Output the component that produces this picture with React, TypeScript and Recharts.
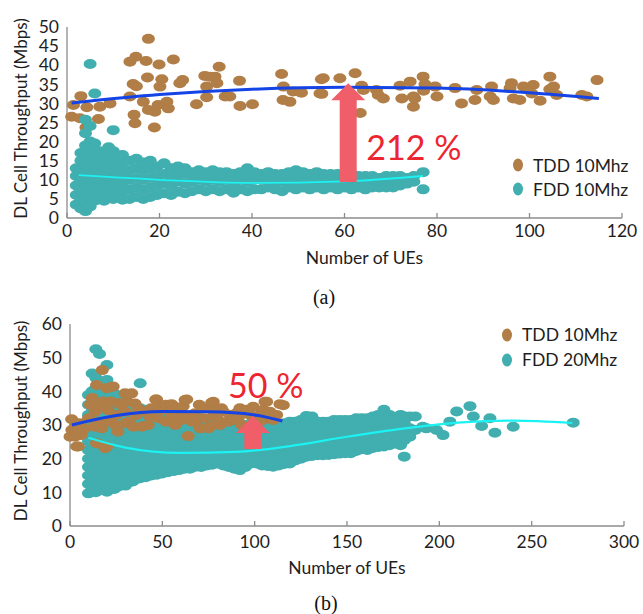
import {
  ComposedChart,
  Scatter,
  XAxis,
  YAxis,
  Legend,
  ReferenceDot,
} from "recharts";

const FONT = "Lato, 'Open Sans', sans-serif";
const TDD_COLOR = "#B07E46";
const FDD_COLOR = "#41AEAF";
const TDD_TREND = "#1443E6";
const FDD_TREND = "#1CF2F2";
const ARROW = "#EF5E69";
const GAIN_TEXT = "#EC2530";
const AXIS = "#8C8C8C";
const INK = "#1E1E1E";

// ---------- (a) TDD 10Mhz vs FDD 10Mhz ----------
const xTicksA = [0, 20, 40, 60, 80, 100, 120];
const yTicksA = [0, 5, 10, 15, 20, 25, 30, 35, 40, 45, 50];

const tddA: [number, number][] = [
  [1.4, 29.6], [1, 26.5], [2.8, 26.1], [3, 31.9], [4.3, 29], [4.1, 23.7], [6.8, 25.9], [7.1, 29.1], [9.3, 30],
  [13.6, 31.8], [14.3, 35.1], [14.5, 27], [14.7, 24.8], [14.9, 42.2], [13.6, 40.9], [15, 34.5],
  [16.5, 30.4], [17.1, 41.1], [17.4, 36.8], [17.6, 46.9], [17.6, 28.3], [19, 27.8], [18.9, 23.7], [19.7, 29.6],
  [19.9, 40.2], [20.1, 34.4], [20.5, 36.3], [21.6, 30.4], [21.9, 28.7], [23, 41.5], [24.4, 35.3], [25, 36.1],
  [28, 29.8], [29.8, 37.2], [30.2, 34.4], [30.2, 31.6], [30.9, 37], [32, 37], [32.4, 35.3], [32.9, 39.6],
  [34.2, 31.8], [35.2, 31.8], [37.3, 35.9], [37.4, 29.3], [40.1, 29.8],
  [46.4, 37.7], [46.8, 34.4], [46.7, 30.9], [48.2, 30.4], [48.9, 33.1], [50.4, 33], [50.7, 32.8], [54.7, 32.6],
  [55, 36.3], [55.4, 36.6], [55.1, 32.5], [59, 36.6], [62.3, 37.9], [63.4, 27.5], [63.7, 34.6], [64.1, 33.5],
  [66.9, 33.5], [67.3, 32.2], [68.4, 31.3], [72, 34.6], [72.4, 31.3], [74.2, 35.7], [74.9, 31.8], [74.9, 29.1],
  [75.2, 31.3], [77, 37], [77.4, 35], [77.1, 33.3], [79.6, 34.4], [80, 31.8], [83.9, 34], [85.3, 30], [88.2, 30.9],
  [88.6, 33.5], [91.8, 34.4], [91.5, 31.8], [92.2, 30.9], [96.1, 35.3], [95.8, 34], [96.5, 31.3], [97.9, 30.9],
  [98.7, 34.4], [100.8, 34.8], [100.5, 32.6], [102.3, 30.7], [104.4, 37], [104.4, 33.7], [105.2, 34.4],
  [105.9, 32.2], [111.3, 32.2], [112.4, 31.8], [114.6, 36.1],
];

// FDD (a): one entry per column of the cloud, [UEs, throughputs]
const fddA: [number, number[]][] = [
  [2, [3.5, 6, 8.5, 11, 13]],
  [3, [2.5, 5, 7.5, 10, 12.5, 15, 17]],
  [4, [1.8, 4, 6.5, 9, 11.5, 14, 16.5, 19, 22.2, 25.7]],
  [5, [3, 5.5, 8, 10.5, 13, 15.5, 18, 20, 24.1, 40.3]],
  [6, [4.5, 7, 9.5, 12, 14.5, 17, 19.5, 32.6]],
  [7, [5, 7.5, 10, 12.5, 15, 17.5]],
  [8, [4.5, 7, 9.5, 12, 14.5, 17]],
  [9, [5.5, 8, 10.5, 13, 15.5, 18.5]],
  [10, [5, 7.5, 10, 12.5, 15, 17.5, 23]],
  [11, [6, 8.5, 11, 13.5, 16]],
  [12, [4.8, 7, 9.5, 12, 14.5, 16.5]],
  [13.5, [5, 7.5, 10, 12.5, 15]],
  [15, [5.5, 8, 10.5, 13, 15.5]],
  [16.5, [5, 7.5, 10, 12.5, 14.5]],
  [18, [5.5, 8, 10.5, 13, 15]],
  [19.5, [6, 8.5, 11, 13.5]],
  [21, [6.5, 9, 11.5, 14.3]],
  [22.5, [6, 8.5, 11, 13]],
  [24, [6.9, 9.5, 12, 13.5]],
  [25.5, [6.5, 9, 11.5, 13]],
  [27, [7, 9.5, 12]],
  [28.5, [7.5, 10, 12.5]],
  [30, [7, 9.5, 12]],
  [31.5, [7.5, 10, 12.5]],
  [33, [7, 9.5, 12]],
  [34.5, [7.5, 10, 12]],
  [36, [6.6, 9, 11.5]],
  [37.5, [7.5, 10, 12]],
  [39, [7, 9.5, 12, 13]],
  [40.5, [7.5, 10, 12]],
  [42, [7.5, 10, 11.5]],
  [43.5, [8, 10, 12]],
  [45, [7.5, 9.5, 11.5]],
  [46.5, [7, 9.5, 11.5]],
  [48, [8, 10, 12]],
  [49.5, [7.5, 9.5, 11.5, 12.5]],
  [51, [8, 10, 12]],
  [52.5, [7.5, 9.5, 11.5]],
  [54, [8, 10, 12]],
  [55.5, [7.5, 9.5, 11.5]],
  [57, [8, 10, 11.5]],
  [58.5, [7.5, 9.5, 11.5]],
  [60, [8, 10, 11.5]],
  [61.5, [7.5, 9.5, 11.5]],
  [63, [8, 10, 11]],
  [64.5, [7.5, 9.5, 11]],
  [66, [8, 10, 11]],
  [67.5, [8, 9.5, 10.5]],
  [69, [8, 9.5, 11]],
  [70.5, [8, 9.5, 11]],
  [72, [8.5, 10, 11]],
  [73.5, [9, 10.5]],
  [75, [9.5, 11]],
  [77, [7.5, 12]],
];

const tddTrendA: [number, number][] = [[1, 30.1], [20, 32.3], [40, 33.7], [60, 34.2], [80, 34], [100, 32.8], [115, 31.3]];
const fddTrendA: [number, number][] = [[2.5, 11.2], [20, 10], [40, 9.2], [60, 9.6], [77, 11]];
const arrowA: [number, number][] = [[60.8, 9.4], [60.8, 35.3]]; // tail, tip
const gainA = { x: 75, y: 18.6, text: "212 %" };

// ---------- (b) TDD 10Mhz vs FDD 20Mhz ----------
const xTicksB = [0, 50, 100, 150, 200, 250, 300];
const yTicksB = [0, 10, 20, 30, 40, 50, 60];

const tddB: [number, number][] = [
  [0, 26.5], [0.9, 31.7], [1, 28.5], [2.7, 29.5], [2.7, 26.5], [3.6, 23.6], [4.5, 23.6], [5, 30.5], [6, 27], [8, 29],
  [10, 32], [11, 36], [12, 38], [13.5, 33.9], [13.5, 29.5], [14.4, 41.9], [14.4, 24.6], [15.3, 35.4], [16, 31],
  [17.2, 29], [17.5, 46.3], [18, 37], [19, 23.1], [19.9, 40.9], [19.9, 23.6], [20.7, 34.4], [21.7, 41.2], [22, 31],
  [22, 37], [23.4, 41.4], [24.4, 30], [25, 33], [26, 36.5], [26, 28], [28, 35.9], [29.8, 39.4], [29.8, 33.9],
  [29.8, 30.5], [31, 37], [32, 31], [33.4, 39.4], [34.3, 29.5], [35.2, 36.4], [36, 33], [37, 35], [38.8, 29.5],
  [39.7, 29.7], [40, 34], [42.4, 30], [43, 32.5], [44, 35], [46.4, 37.6], [46.9, 37.6], [47.8, 32], [48, 35],
  [50, 34.5], [52, 31], [52, 36], [55, 36.2], [55, 32.5], [55.9, 35.6], [57, 30], [58, 33.5], [60.5, 31.5],
  [61.3, 35.6], [62, 33], [62.3, 37.4], [63.2, 37.6], [64, 26.7], [66, 31], [67.7, 33.5], [68, 31], [70, 36],
  [70.4, 29], [72, 35], [73.1, 32], [74.9, 29], [75.8, 35], [75.8, 29.5], [76.7, 36.6], [77.6, 36.9], [78, 33],
  [80.3, 31.5], [81.2, 30], [82, 35], [83, 34], [85.7, 31], [86.6, 33], [88.4, 31.5], [90, 33.5], [91.1, 32],
  [92, 35], [93, 30], [95.7, 33.5], [95.7, 34.5], [97.5, 33], [99.2, 35.4], [100, 32], [101.1, 30.5], [103, 33],
  [104.6, 34.5], [104.6, 31.5], [105.6, 36.9], [106.5, 36.9], [107, 32.5], [108.3, 33.9], [110, 31.5],
  [111.9, 33], [113.7, 36.2], [115.5, 35.9],
];

// FDD (b): one entry per column of the cloud, [UEs, throughputs]
const fddB: [number, number[]][] = [
  [10, [9.7, 12.5, 15, 17.5, 20, 22.5, 25, 27.5, 30, 33, 36, 38.9]],
  [12, [11, 14, 16.5, 19, 21.5, 24, 26.5, 29, 31.5, 34, 37, 40, 45.3]],
  [14, [10, 13, 15.5, 18, 20.5, 23, 25.5, 28, 30.5, 33, 35.5, 38, 41, 44, 52.5]],
  [16, [10.7, 13.5, 16, 18.5, 21, 23.5, 26, 28.5, 31, 33.5, 36, 38.5, 42.9, 51.1]],
  [18, [11.5, 14, 16.5, 19, 21.5, 24, 26.5, 29, 31.5, 34, 36.5, 40]],
  [20, [10.2, 12.8, 15.5, 18, 20.5, 23, 25.5, 28, 30.5, 33, 35.5, 38, 43.4, 47.8]],
  [22, [12, 14.5, 17, 19.5, 22, 24.5, 27, 29.5, 32, 34.5, 37]],
  [24, [11, 13.5, 16, 18.5, 21, 23.5, 26, 28.5, 31, 33.5, 36, 39.4]],
  [26, [11.7, 14.5, 17, 19.5, 22, 24.5, 27, 29.5, 32, 34.5, 37]],
  [28, [12.5, 15, 17.5, 20, 22.5, 25, 27.5, 30, 32.5, 35, 37.5]],
  [30, [12, 14.5, 17, 19.5, 22, 24.5, 27, 29.5, 32, 34.5]],
  [32, [13, 15.5, 18, 20.5, 23, 25.5, 28, 30.5, 33, 36]],
  [34, [13.2, 16, 18.5, 21, 23.5, 26, 28.5, 31, 33.5]],
  [36, [14, 16.5, 19, 21.5, 24, 26.5, 29, 31.5, 34]],
  [38, [14.2, 17, 19.5, 22, 24.5, 27, 29.5, 32, 35, 42.4]],
  [41, [14.5, 17, 19.5, 22, 24.5, 27, 29.5, 32, 34.5]],
  [44, [15, 17.5, 20, 22.5, 25, 27.5, 30, 32.5]],
  [47, [15.2, 18, 20.5, 23, 25.5, 28, 30.5, 33]],
  [50, [15.6, 18, 20.5, 23, 25.5, 28, 30.5, 33]],
  [53, [16, 18.5, 21, 23.5, 26, 28.5, 31, 33]],
  [56, [16.3, 19, 21.5, 24, 26.5, 29, 31.5]],
  [59, [16.6, 19, 21.5, 24, 26.5, 29, 31.5]],
  [62, [17, 19.5, 22, 24.5, 27, 29.5, 32]],
  [65, [17, 19.5, 22, 24.5, 27, 29.5, 31.5]],
  [68, [17.6, 20, 22.5, 25, 27.5, 30]],
  [71, [17.5, 20, 22.5, 25, 27.5, 30, 32]],
  [74, [18, 20.5, 23, 25.5, 28, 30.5]],
  [77, [18.2, 20.5, 23, 25.5, 28, 30.5]],
  [80, [18.6, 21, 23.5, 26, 28.5, 31]],
  [83, [18, 20.5, 23, 25.5, 28, 30.5]],
  [86, [17.5, 20, 22.5, 25, 27.5, 30]],
  [89, [17, 19.5, 22, 24.5, 27, 29.5]],
  [92, [16.6, 19, 21.5, 24, 26.5, 29]],
  [95, [17.5, 20, 22.5, 25, 27.5, 30]],
  [98, [18.6, 21, 23.5, 26, 28.5, 30.5]],
  [101, [18.6, 21, 23.5, 26, 28.5, 30.5]],
  [104, [18, 20.5, 23, 25.5, 28, 30.5]],
  [107, [17.8, 20.5, 23, 25.5, 28, 30]],
  [110, [17.6, 20, 22.5, 25, 27.5, 30]],
  [113, [18, 20.5, 23, 25.5, 28, 30]],
  [116, [18.4, 21, 23.5, 26, 28.5, 30.5]],
  [119, [18.6, 21, 23.5, 26, 28.5, 31]],
  [122, [19.5, 22, 24.5, 27, 29.5, 31]],
  [125, [20, 22.5, 25, 27.5, 30, 31.5]],
  [128, [20.6, 23, 25.5, 28, 30.5, 32.7]],
  [131, [20.8, 23, 25.5, 28, 30.5, 32.5]],
  [134, [21, 23.5, 26, 28.5, 31]],
  [137, [21, 23.5, 26, 28.5, 31]],
  [140, [21.1, 23.5, 26, 28.5, 31]],
  [143, [21.3, 24, 26.5, 29, 31.5]],
  [146, [21.5, 24, 26.5, 29, 31.5]],
  [149, [21.6, 24, 26.5, 29, 31.5]],
  [152, [21.6, 24, 26.5, 29, 31.5]],
  [155, [22.3, 24.5, 27, 29.5, 32]],
  [158, [22.8, 25, 27.5, 30, 32]],
  [161, [22.6, 25, 27.5, 30, 32]],
  [164, [23.2, 25.5, 28, 30.5, 32.5]],
  [167, [23.5, 26, 28.5, 31, 33]],
  [170, [23.6, 26, 28.5, 31, 34.5]],
  [173, [24, 26.5, 29, 31.5, 33]],
  [176, [24.5, 27, 29.5, 32]],
  [179, [24, 27, 29.5, 32, 33]],
  [181, [20.6, 25.5, 28, 30.5, 32.5]],
  [184, [26.5, 29, 32.5]],
  [187, [28.5, 32.5]],
  [191, [29.5]],
  [193, [29]],
  [198.5, [28.5]],
  [202, [27]],
  [205.7, [31]],
  [209.4, [34]],
  [216.6, [35.6]],
  [218.4, [32.5]],
  [222.9, [29.7]],
  [227.4, [32]],
  [230.1, [27.7]],
  [240, [29.5]],
  [272.5, [30.7]],
];

const tddTrendB: [number, number][] = [[1, 30], [25, 32.8], [50, 34], [75, 33.9], [100, 33], [115, 31.2]];
const fddTrendB: [number, number][] = [
  [10, 26.2], [30, 23.3], [60, 21.7], [90, 22], [120, 23.8], [150, 26.5], [180, 28.9], [210, 30.7], [240, 31.3], [272, 30.6],
];
const arrowB: [number, number][] = [[99, 22.9], [99, 32.7]]; // tail, tip
const gainB = { x: 106, y: 41.9, text: "50 %" };

// ---------- helpers ----------
type Pt = { x: number; y: number };
const pairs = (d: [number, number][]): Pt[] => d.map(([x, y]) => ({ x, y }));
const columns = (d: [number, number[]][]): Pt[] => d.flatMap(([x, ys]) => ys.map((y) => ({ x, y })));

const Blob = (p: any) => <ellipse cx={p.cx} cy={p.cy} rx={6.5} ry={5} fill={p.fill} />;
const NoDot = () => <g />;

// block arrow drawn from the two projected points of a 2-point scatter (tail, tip)
function BlockArrow(p: any) {
  const pts = p.points || [];
  if (pts.length < 2) return <g />;
  const x = pts[0].x;
  const tip = Math.min(pts[0].y, pts[1].y);
  const tail = Math.max(pts[0].y, pts[1].y);
  const s = 8.5, h = 17, hl = 17;
  const d = `M${x - s},${tail} L${x - s},${tip + hl} L${x - h},${tip + hl} L${x},${tip} L${x + h},${tip + hl} L${x + s},${tip + hl} L${x + s},${tail} Z`;
  return <path d={d} fill={ARROW} />;
}

const gainText = (text: string) => (p: any) => (
  <text x={p.cx} y={p.cy} textAnchor="middle" dominantBaseline="central" fill={GAIN_TEXT} fontFamily={FONT} fontSize={34}>
    {text}
  </text>
);

const yTitle = (p: any) => {
  const vb = p.viewBox;
  const cx = vb.x + 20;
  const cy = vb.y + vb.height / 2 - 4;
  return (
    <text x={cx} y={cy} transform={`rotate(-90 ${cx} ${cy})`} textAnchor="middle" dominantBaseline="central" fill={INK} fontFamily={FONT} fontSize={17}>
      DL Cell Throughput (Mbps)
    </text>
  );
};

const xTitle = (shift: number, dy: number) => (p: any) => {
  const vb = p.viewBox;
  return (
    <text x={vb.x + vb.width / 2 + shift} y={vb.y + dy} textAnchor="middle" dominantBaseline="central" fill={INK} fontFamily={FONT} fontSize={17.5}>
      Number of UEs
    </text>
  );
};

const legendBox = (items: { name: string; color: string }[], row: number) => () => (
  <div style={{ fontFamily: FONT, fontSize: 17.5, color: INK }}>
    {items.map((it) => (
      <div key={it.name} style={{ display: "flex", alignItems: "center", height: row, whiteSpace: "nowrap" }}>
        <svg width={14} height={16}>
          <ellipse cx={7} cy={8} rx={5} ry={6.5} fill={it.color} />
        </svg>
        <span style={{ marginLeft: 8 }}>{it.name}</span>
      </div>
    ))}
  </div>
);

const tickStyle = { fontFamily: FONT, fontSize: 17.5, fill: INK };

export default function App() {
  return (
    <div style={{ position: "absolute", left: 0, top: 0, width: 643, height: 614, background: "#fff" }}>
      <div style={{ position: "absolute", left: 0, top: 0 }}>
        <ComposedChart width={643} height={270} margin={{ top: 27, right: 21, bottom: 0, left: 0 }}>
          <XAxis
            type="number"
            dataKey="x"
            domain={[0, 120]}
            ticks={xTicksA}
            height={52}
            stroke={AXIS}
            strokeWidth={1.3}
            tickSize={-5}
            tickMargin={12}
            tick={tickStyle}
            label={{ content: xTitle(20, 39) }}
          />
          <YAxis
            type="number"
            dataKey="y"
            domain={[0, 50]}
            ticks={yTicksA}
            width={67}
            stroke={AXIS}
            strokeWidth={1.3}
            tickLine={false}
            tick={tickStyle}
            interval={0}
            label={{ content: yTitle }}
          />
          <Scatter name="TDD 10Mhz" data={pairs(tddA)} fill={TDD_COLOR} shape={Blob} isAnimationActive={false} />
          <Scatter name="FDD 10Mhz" data={columns(fddA)} fill={FDD_COLOR} shape={Blob} isAnimationActive={false} />
          <Scatter data={pairs(tddTrendA)} shape={NoDot} line={{ stroke: TDD_TREND, strokeWidth: 3 }} lineJointType="monotoneX" legendType="none" isAnimationActive={false} />
          <Scatter data={pairs(fddTrendA)} shape={NoDot} line={{ stroke: FDD_TREND, strokeWidth: 1.8 }} lineJointType="monotoneX" legendType="none" isAnimationActive={false} />
          <Scatter data={pairs(arrowA)} shape={NoDot} line={BlockArrow} legendType="none" isAnimationActive={false} />
          <ReferenceDot x={gainA.x} y={gainA.y} r={0} shape={gainText(gainA.text)} />
          <Legend
            layout="vertical"
            align="center"
            verticalAlign="middle"
            content={legendBox([{ name: "TDD 10Mhz", color: TDD_COLOR }, { name: "FDD 10Mhz", color: FDD_COLOR }], 24)}
            wrapperStyle={{ left: 511, top: 153, width: "auto" }}
          />
        </ComposedChart>
      </div>
      <div style={{ position: "absolute", top: 287, left: 0, width: 648, textAlign: "center", fontFamily: "'Liberation Serif', serif", fontSize: 20, lineHeight: "20px", color: "#111" }}>
        (a)
      </div>

      <div style={{ position: "absolute", left: 0, top: 300 }}>
        <ComposedChart width={643} height={276} margin={{ top: 24, right: 19, bottom: 0, left: 0 }}>
          <XAxis
            type="number"
            dataKey="x"
            domain={[0, 300]}
            ticks={xTicksB}
            height={50}
            stroke={AXIS}
            strokeWidth={1.3}
            tickSize={-5}
            tickMargin={15}
            tick={tickStyle}
            label={{ content: xTitle(0, 41) }}
          />
          <YAxis
            type="number"
            dataKey="y"
            domain={[0, 60]}
            ticks={yTicksB}
            width={70}
            stroke={AXIS}
            strokeWidth={1.3}
            tickLine={false}
            tick={tickStyle}
            interval={0}
            label={{ content: yTitle }}
          />
          <Scatter name="FDD 20Mhz" data={columns(fddB)} fill={FDD_COLOR} shape={Blob} isAnimationActive={false} />
          <Scatter name="TDD 10Mhz" data={pairs(tddB)} fill={TDD_COLOR} shape={Blob} isAnimationActive={false} />
          <Scatter data={pairs(fddTrendB)} shape={NoDot} line={{ stroke: FDD_TREND, strokeWidth: 2.2 }} lineJointType="monotoneX" legendType="none" isAnimationActive={false} />
          <Scatter data={pairs(tddTrendB)} shape={NoDot} line={{ stroke: TDD_TREND, strokeWidth: 3 }} lineJointType="monotoneX" legendType="none" isAnimationActive={false} />
          <Scatter data={pairs(arrowB)} shape={NoDot} line={BlockArrow} legendType="none" isAnimationActive={false} />
          <ReferenceDot x={gainB.x} y={gainB.y} r={0} shape={gainText(gainB.text)} />
          <Legend
            layout="vertical"
            align="center"
            verticalAlign="middle"
            content={legendBox([{ name: "TDD 10Mhz", color: TDD_COLOR }, { name: "FDD 20Mhz", color: FDD_COLOR }], 25)}
            wrapperStyle={{ left: 500, top: 22, width: "auto" }}
          />
        </ComposedChart>
      </div>
      <div style={{ position: "absolute", top: 593, left: 0, width: 652, textAlign: "center", fontFamily: "'Liberation Serif', serif", fontSize: 20, lineHeight: "20px", color: "#111" }}>
        (b)
      </div>
    </div>
  );
}
